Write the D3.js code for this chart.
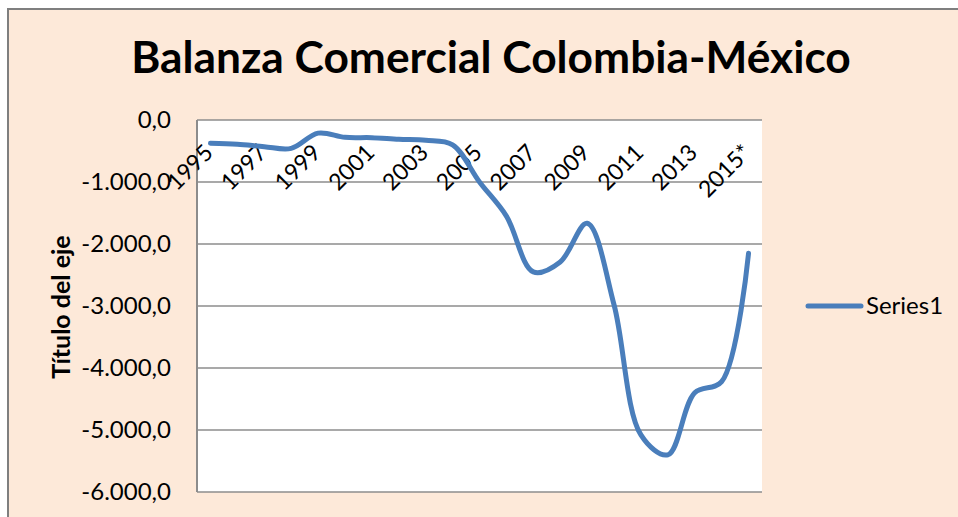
<!DOCTYPE html>
<meta charset="utf-8">
<style>
body { margin: 0; background: #fff; }
svg text { font-family: Lato, "Open Sans", sans-serif; fill: #000; }
.grid line { stroke: #8c8c8c; stroke-width: 1.5px; }
.y.axis path, .y.axis line { display: none; }
.y.axis text { font-size: 24px; }
.x.axis text { font-size: 23px; }
</style>
<body>
<script src="https://d3js.org/d3.v7.min.js"></script>
<script>
// data
var years = ["1995", "1996", "1997", "1998", "1999", "2000", "2001", "2002", "2003", "2004",
             "2005", "2006", "2007", "2008", "2009", "2010", "2011", "2012", "2013", "2014", "2015*"];
var balance = [-375, -392, -430, -458, -212, -280, -285, -312, -328, -400,
               -1000, -1550, -2450, -2290, -1665, -2980, -5080, -5400, -4400, -4220, -2150];
var yTicks = [0, -1000, -2000, -3000, -4000, -5000, -6000];
var xLabels = ["1995", "1997", "1999", "2001", "2003", "2005", "2007", "2009", "2011", "2013", "2015*"];

var W = 958, H = 517;
var plot = { left: 197, right: 762, top: 120, bottom: 492 };

var svg = d3.select("body").append("svg")
    .attr("width", W)
    .attr("height", H);

// chart area background + border
svg.append("rect")
    .attr("x", 8).attr("y", 9)
    .attr("width", W).attr("height", H)
    .attr("fill", "#fde9d9")
    .attr("stroke", "#7f7f7f")
    .attr("stroke-width", 2);

// plot area
svg.append("rect")
    .attr("x", plot.left).attr("y", plot.top)
    .attr("width", plot.right - plot.left)
    .attr("height", plot.bottom - plot.top)
    .attr("fill", "#fff");

var x = d3.scaleBand()
    .domain(years)
    .range([plot.left, plot.right]);

var y = d3.scaleLinear()
    .domain([-6000, 0])
    .range([plot.bottom, plot.top]);

// gridlines
svg.append("g")
    .attr("class", "grid")
    .selectAll("line")
    .data(yTicks)
    .enter().append("line")
    .attr("x1", plot.left).attr("x2", plot.right)
    .attr("y1", function(d) { return y(d); })
    .attr("y2", function(d) { return y(d); });

// left axis line
svg.append("line")
    .attr("x1", plot.left).attr("x2", plot.left)
    .attr("y1", plot.top).attr("y2", plot.bottom)
    .attr("stroke", "#8c8c8c")
    .attr("stroke-width", 2);

// y axis labels, spanish number format
var es = d3.formatLocale({ decimal: ",", thousands: ".", grouping: [3], currency: ["", "$"] });
var fmt = es.format(",.1f");

svg.append("g")
    .attr("class", "y axis")
    .attr("transform", "translate(" + (plot.left - 26) + ",0)")
    .call(d3.axisLeft(y).tickValues(yTicks).tickFormat(function(d) { return fmt(d).replace("−", "-"); }).tickSize(0).tickPadding(0));

// category labels, rotated, sitting under the zero line
svg.append("g")
    .attr("class", "x axis")
    .selectAll("text")
    .data(xLabels)
    .enter().append("text")
    .attr("text-anchor", "end")
    .attr("transform", function(d) {
        return "translate(" + (x(d) + x.bandwidth() / 2 + 4) + ",154) rotate(-45)";
    })
    .text(function(d) { return d; });

// the series line (excel-like smoothing)
var line = d3.line()
    .x(function(d, i) { return x(years[i]) + x.bandwidth() / 2; })
    .y(function(d) { return y(d); })
    .curve(d3.curveCatmullRom.alpha(0.5));

svg.append("path")
    .datum(balance)
    .attr("fill", "none")
    .attr("stroke", "#4a7ebb")
    .attr("stroke-width", 5)
    .attr("stroke-linecap", "round")
    .attr("stroke-linejoin", "round")
    .attr("d", line);

// title
var title = svg.append("text")
    .attr("x", 491).attr("y", 73)
    .attr("text-anchor", "middle")
    .attr("font-weight", "bold")
    .attr("font-size", 44)
    .text("Balanza Comercial Colombia-México");
var tw = title.node().getComputedTextLength();
title.attr("font-size", 44 * 720 / tw);

// axis title
svg.append("text")
    .attr("transform", "translate(70,307) rotate(-90)")
    .attr("text-anchor", "middle")
    .attr("font-weight", "bold")
    .attr("font-size", 25)
    .text("Título del eje");

// legend
svg.append("line")
    .attr("x1", 808).attr("x2", 861)
    .attr("y1", 306).attr("y2", 306)
    .attr("stroke", "#4a7ebb")
    .attr("stroke-width", 5)
    .attr("stroke-linecap", "round");
svg.append("text")
    .attr("x", 866).attr("y", 314)
    .attr("font-size", 24)
    .text("Series1");
</script>
</body>
